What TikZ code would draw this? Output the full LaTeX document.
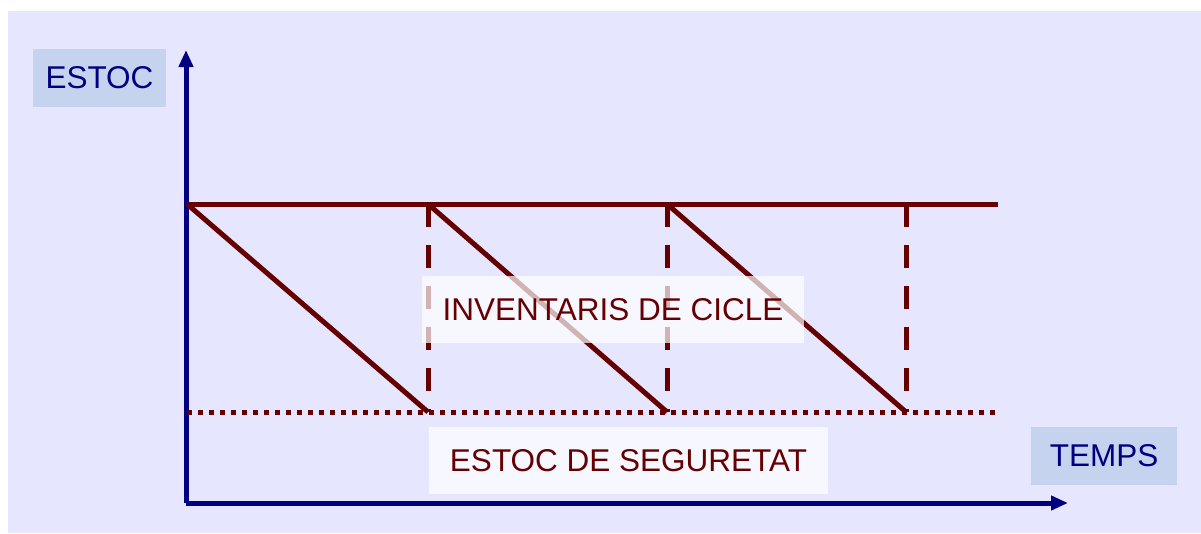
\documentclass[tikz,border=0pt]{standalone}
\usepackage{fontspec}
\setmainfont{Liberation Sans}
\usetikzlibrary{arrows.meta}

\definecolor{panelbg}{HTML}{E6E6FF}
\definecolor{axisblue}{HTML}{000080}
\definecolor{boxblue}{HTML}{C6D3EE}
\definecolor{stockred}{HTML}{660000}

\tikzset{
  axislabel/.style={fill=boxblue, text=axisblue, inner sep=0pt,
    font=\fontsize{31.5}{36}\selectfont},
  zonelabel/.style={fill=white, fill opacity=0.7, text opacity=1,
    text=stockred, inner sep=0pt, font=\fontsize{31.5}{36}\selectfont},
  axisline/.style={axisblue, line width=5pt,
    -{Triangle[length=17pt,width=14pt]}},
  stockline/.style={stockred, line width=5pt},
  reorderline/.style={stockred, line width=5pt, dash pattern=on 23pt off 18pt},
  safetyline/.style={stockred, line width=5pt, dash pattern=on 5pt off 6pt}
}

\begin{document}
\begin{tikzpicture}[x=1pt, y=-1pt]

  % Background and panel
  \useasboundingbox (0,0) rectangle (1201,533);
  \fill[white] (0,0) rectangle (1201,533);
  \fill[panelbg] (8,11) rectangle (1201,533);

  % Axes
  \coordinate (O) at (186,503);
  \coordinate (Ytop) at (186,50);
  \coordinate (Xend) at (1068,503);
  \draw[axisline] (O) -- (Ytop);
  \draw[axisline] (O) -- (Xend);

  % Maximum stock level and safety stock level
  \coordinate (T0) at (187,204);
  \coordinate (T1) at (428,204);
  \coordinate (T2) at (667,204);
  \coordinate (T3) at (906,204);
  \coordinate (Tend) at (998,204);
  \coordinate (B0) at (187,412);
  \coordinate (B1) at (428,412);
  \coordinate (B2) at (667,412);
  \coordinate (B3) at (906,412);
  \coordinate (Bend) at (998,412);

  \draw[stockline] (T0) -- (Tend);
  \draw[safetyline] (B0) -- (Bend);

  % Consumption of each cycle
  \draw[stockline] (T0) -- (B1);
  \draw[stockline] (T1) -- (B2);
  \draw[stockline] (T2) -- (B3);

  % Replenishment at the end of each cycle
  \draw[reorderline] (T1) -- (B1);
  \draw[reorderline] (T2) -- (B2);
  \draw[reorderline] (T3) -- (B3);

  % Axis labels
  \node[axislabel, minimum width=133pt, minimum height=58pt] (stock) at (99.5,78) {ESTOC};
  \node[axislabel, minimum width=146pt, minimum height=58pt] (time) at (1104,456) {TEMPS};

  % Zone labels
  \node[zonelabel, minimum width=382pt, minimum height=67pt] (cycle) at (613,309.5) {INVENTARIS DE CICLE};
  \node[zonelabel, minimum width=399pt, minimum height=67pt] (safety) at (628.5,460.5) {ESTOC DE SEGURETAT};

\end{tikzpicture}
\end{document}
